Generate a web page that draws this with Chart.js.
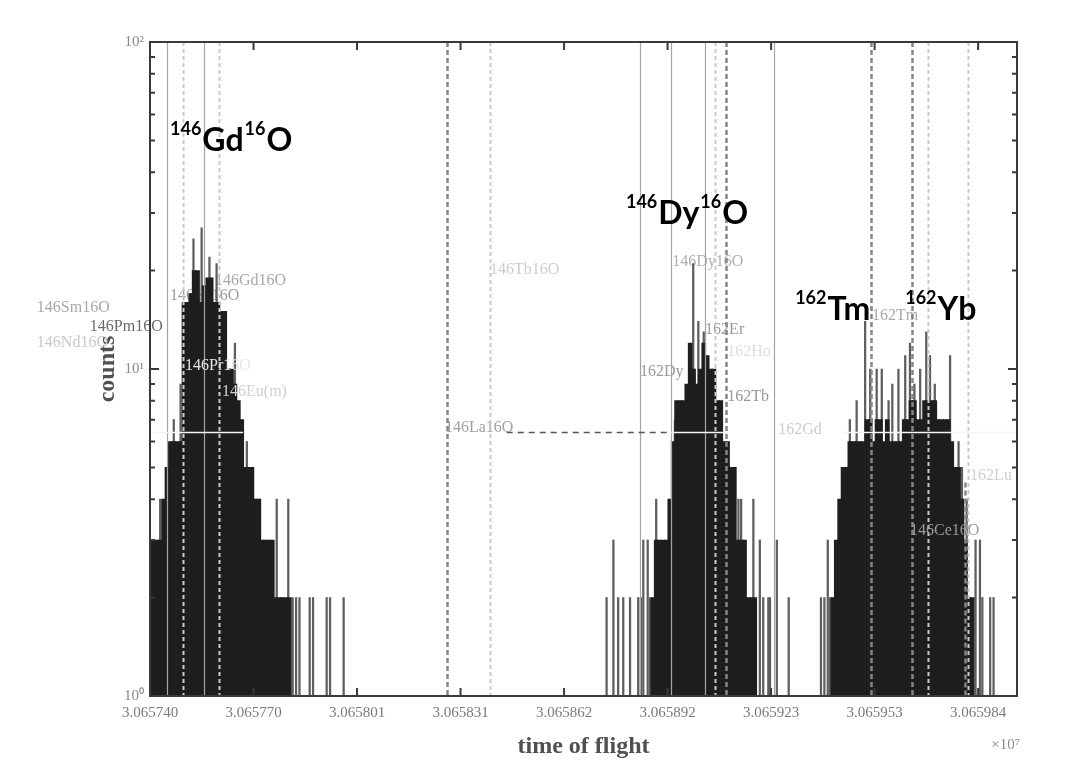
<!DOCTYPE html>
<html>
<head>
<meta charset="utf-8">
<title>time of flight</title>
<script src="https://cdn.jsdelivr.net/npm/chart.js@4.4.1/dist/chart.umd.min.js"></script>
<style>
  html, body { margin: 0; padding: 0; background: #fff; }
  canvas { display: block; }
</style>
</head>
<body>
<canvas id="tofChart" width="1077" height="769"></canvas>
<script>
'use strict'

// time of flight is in units of 1e-6 (x 10^7), counted from 3.065000
let TOF_BASE = 3.065;
let TOF_UNIT = 0.000001;

let xMin = 740;
let xMax = 995.2;
let xTicks = [740, 770.47, 800.94, 831.41, 861.88, 892.35, 922.82, 953.29, 983.76];
let xTickLabels = ['3.065740', '3.065770', '3.065801', '3.065831', '3.065862', '3.065892', '3.065923', '3.065953', '3.065984'];

let yTicks = [1, 10, 100];
let yTickLabels = ['10⁰', '10¹', '10²'];
let yMinorTicks = [2, 3, 4, 5, 6, 7, 8, 9, 20, 30, 40, 50, 60, 70, 80, 90];

// filled histogram, one bin per unit
let peak1Start = 740;
let peak1Counts = [3, 3, 3, 3, 4, 5, 6, 6, 6, 6, 16, 16, 17, 20, 20, 16, 18, 19, 19, 16,
  16, 15, 15, 10, 10, 9, 8, 7, 5, 5, 5, 4, 4, 3, 3, 3, 3, 2, 2, 2, 2, 2];
let peak2Start = 888;
let peak2Counts = [2, 3, 3, 3, 3, 4, 6, 8, 8, 8, 9, 12, 10, 9, 10, 12, 11, 10, 10, 8,
  8, 6, 6, 5, 5, 3, 3, 3, 2, 2, 2];
let peak3Start = 941;
let peak3Counts = [2, 3, 4, 5, 5, 6, 6, 6, 6, 6, 7, 7, 6, 7, 7, 6, 7, 6, 6, 6,
  6, 7, 7, 8, 8, 7, 7, 8, 8, 8, 8, 7, 7, 7, 7, 6, 5, 5, 4, 3, 2, 2];

// thin single channels (spikes and isolated counts)
let spikeTof = [743, 747, 749, 752.8, 755.2, 757.5, 759.6, 765, 768.5, 770.5, 772.4, 777.3, 780.7,
  782, 783, 784, 787, 788, 792, 793, 797,
  874.4, 876.4, 877.8, 879.3, 881.3, 883.7, 884.5, 885.2, 886.5, 887.2, 889, 894.5, 899.9, 901.4, 903,
  913.2, 914, 917.6, 919.5, 920.5, 922, 922.5, 924.5, 928,
  937.5, 938.5, 939.5, 940.2, 946, 948, 950.5, 952, 953.9, 955.4, 957.4, 958.5, 960.3, 962.3, 963.7,
  965, 966.7, 968.5, 969.6, 971, 975.5, 978, 979, 980.4, 983, 984.3, 985, 987.3, 988.3];
let spikeCounts = [4, 7, 9, 25, 27, 22, 21, 12, 6, 4, 4, 4, 4,
  2, 2, 2, 2, 2, 2, 2, 2,
  2, 3, 2, 2, 2, 2, 2, 3, 3, 2, 4, 7, 21, 14, 13,
  4, 4, 4, 3, 2, 2, 2, 3, 2,
  2, 2, 3, 2, 7, 8, 14, 10, 10, 10, 8, 9, 10, 11, 12,
  9, 10, 13, 11, 9, 11, 6, 5, 4, 3, 3, 2, 2, 2];

// reference lines: s = solid, l = light dashed, d = dark dashed; top given as a count
let vlineTof = [745.0, 749.7, 755.9, 760.3, 827.4, 840.1, 884.2, 893.4, 903.4, 906.3, 909.6, 923.7, 952.2, 964.3, 969.0, 980.8, 979.9];
let vlineKind = ['s', 'l', 's', 'l', 'd', 'l', 's', 's', 's', 'l', 'd', 's', 'd', 'd', 'l', 'l', 'd'];
let vlineTop = [100, 100, 100, 100, 100, 100, 100, 100, 100, 100, 100, 100, 100, 100, 100, 100, 4.5];

let hlineFrom = [740, 893.4, 944];
let hlineTo = [767.4, 909.6, 995];
let hlineCount = [6.4, 6.4, 6.4];
let dashFrom = 845;
let dashTo = 893.4;
let dashCount = 6.4;

let labelText = ['146Sm16O', '146Pm16O', '146Nd16O', '146Gd16O', '146Eu16O', '146Pr16O', '146Eu(m)',
  '146Tb16O', '146La16O', '146Dy16O', '162Er', '162Ho', '162Dy', '162Tb', '162Gd', '162Tm', '162Lu', '146Ce16O'];
let labelTof = [706.7, 722.3, 706.7, 759.1, 745.9, 750.3, 761.2, 840.1, 826.8, 893.7, 903.4, 909.9, 884.2, 909.9, 924.9, 952.5, 981.4, 963.7];
let labelCount = [15.4, 13.5, 12.0, 18.6, 16.7, 10.2, 8.5, 20.1, 6.6, 21.2, 13.2, 11.3, 9.8, 8.2, 6.5, 14.5, 4.7, 3.2];
let labelShade = ['#a8a8a8', '#6a6a6a', '#c8c8c8', '#a8a8a8', '#9a9a9a', '#e6e6e6', '#cfcfcf', '#cdcdcd', '#a0a0a0',
  '#b0b0b0', '#9a9a9a', '#dedede', '#999999', '#999999', '#cccccc', '#a8a8a8', '#d0d0d0', '#9a9a9a'];
let labelOnTop = [0, 0, 0, 0, 0, 1, 1, 0, 0, 0, 0, 0, 0, 0, 0, 0, 0, 1];

// big annotations, [text, superscript?]
let annParts = [
  [['146', 1], ['Gd', 0], ['16', 1], ['O', 0]],
  [['146', 1], ['Dy', 0], ['16', 1], ['O', 0]],
  [['162', 1], ['Tm', 0]],
  [['162', 1], ['Yb', 0]]
];
let annTof = [745.9, 880.1, 929.9, 962.3];
let annCount = [46.4, 27.8, 14.1, 14.1];

function tof(u) {
  return TOF_BASE + u * TOF_UNIT;
}

let histPts = [];
function addPeak(start, counts) {
  for (let i = 0; i < counts.length; i++) {
    if (counts[i]) histPts.push({ x: tof(start + i), y: counts[i] });
  }
}
addPeak(peak1Start, peak1Counts);
addPeak(peak2Start, peak2Counts);
addPeak(peak3Start, peak3Counts);

let spikePts = spikeTof.map((u, i) => ({ x: tof(u), y: spikeCounts[i] }));

const SERIF = "'Liberation Serif', 'Times New Roman', serif";

function drawLabels(chart, onTop) {
  let ctx = chart.ctx;
  let xs = chart.scales.x;
  let ys = chart.scales.y;
  ctx.save();
  ctx.font = '16px ' + SERIF;
  ctx.textBaseline = 'middle';
  ctx.textAlign = 'left';
  for (let i = 0; i < labelText.length; i++) {
    if (labelOnTop[i] !== onTop) continue;
    ctx.fillStyle = labelShade[i];
    ctx.fillText(labelText[i], xs.getPixelForValue(tof(labelTof[i])), ys.getPixelForValue(labelCount[i]));
  }
  ctx.restore();
}

function drawRefLines(chart) {
  let ctx = chart.ctx;
  let area = chart.chartArea;
  let xs = chart.scales.x;
  let ys = chart.scales.y;
  ctx.save();
  ctx.beginPath();
  ctx.rect(area.left, area.top, area.right - area.left, area.bottom - area.top);
  ctx.clip();
  for (let i = 0; i < vlineTof.length; i++) {
    let x = Math.round(xs.getPixelForValue(tof(vlineTof[i]))) + 0.5;
    let kind = vlineKind[i];
    if (kind === 's') {
      ctx.strokeStyle = '#a4a4a4'; ctx.lineWidth = 1.2; ctx.setLineDash([]);
    } else if (kind === 'l') {
      ctx.strokeStyle = '#cacaca'; ctx.lineWidth = 2; ctx.setLineDash([4, 3]);
    } else {
      ctx.strokeStyle = '#858585'; ctx.lineWidth = 2.5; ctx.setLineDash([5, 3]);
    }
    ctx.beginPath();
    ctx.moveTo(x, ys.getPixelForValue(vlineTop[i]));
    ctx.lineTo(x, area.bottom);
    ctx.stroke();
  }
  ctx.setLineDash([]);
  ctx.strokeStyle = '#f4f4f4';
  ctx.lineWidth = 1.5;
  for (let i = 0; i < hlineFrom.length; i++) {
    let y = ys.getPixelForValue(hlineCount[i]);
    ctx.beginPath();
    ctx.moveTo(xs.getPixelForValue(tof(hlineFrom[i])), y);
    ctx.lineTo(xs.getPixelForValue(tof(hlineTo[i])), y);
    ctx.stroke();
  }
  ctx.strokeStyle = '#555';
  ctx.setLineDash([6, 5]);
  let yd = ys.getPixelForValue(dashCount);
  ctx.beginPath();
  ctx.moveTo(xs.getPixelForValue(tof(dashFrom)), yd);
  ctx.lineTo(xs.getPixelForValue(tof(dashTo)), yd);
  ctx.stroke();
  ctx.restore();
}

function drawFrame(chart) {
  let ctx = chart.ctx;
  let a = chart.chartArea;
  let xs = chart.scales.x;
  let ys = chart.scales.y;
  ctx.save();
  ctx.strokeStyle = '#3a3a3a';
  ctx.lineWidth = 2;
  ctx.strokeRect(a.left, a.top, a.right - a.left, a.bottom - a.top);
  ctx.beginPath();
  xTicks.forEach(u => {
    let x = xs.getPixelForValue(tof(u));
    ctx.moveTo(x, a.bottom); ctx.lineTo(x, a.bottom - 8);
    ctx.moveTo(x, a.top); ctx.lineTo(x, a.top + 8);
  });
  yTicks.forEach(v => {
    let y = ys.getPixelForValue(v);
    ctx.moveTo(a.left, y); ctx.lineTo(a.left + 9, y);
    ctx.moveTo(a.right, y); ctx.lineTo(a.right - 9, y);
  });
  yMinorTicks.forEach(v => {
    let y = ys.getPixelForValue(v);
    ctx.moveTo(a.left, y); ctx.lineTo(a.left + 5, y);
    ctx.moveTo(a.right, y); ctx.lineTo(a.right - 5, y);
  });
  ctx.stroke();
  ctx.restore();
}

function drawAnnotations(chart) {
  let ctx = chart.ctx;
  let xs = chart.scales.x;
  let ys = chart.scales.y;
  ctx.save();
  ctx.fillStyle = '#000';
  ctx.textBaseline = 'alphabetic';
  ctx.textAlign = 'left';
  for (let i = 0; i < annParts.length; i++) {
    let x = xs.getPixelForValue(tof(annTof[i]));
    let y = ys.getPixelForValue(annCount[i]);
    annParts[i].forEach(p => {
      ctx.font = p[1] ? "bold 18px Lato, 'Open Sans', sans-serif" : "bold 32px Lato, 'Open Sans', sans-serif";
      ctx.fillText(p[0], x, p[1] ? y - 16 : y);
      x += ctx.measureText(p[0]).width + 1;
    });
  }
  ctx.restore();
}

function drawExponent(chart) {
  let ctx = chart.ctx;
  let a = chart.chartArea;
  ctx.save();
  ctx.fillStyle = '#8a8a8a';
  ctx.font = '15px ' + SERIF;
  ctx.textAlign = 'right';
  ctx.textBaseline = 'middle';
  ctx.fillText('×10⁷', a.right + 3, 745);
  ctx.restore();
}

const underLabels = {
  id: 'underLabels',
  beforeDatasetsDraw(chart) { drawLabels(chart, 0); }
};

const overlays = {
  id: 'overlays',
  afterDatasetsDraw(chart) {
    drawRefLines(chart);
    drawLabels(chart, 1);
    drawFrame(chart);
    drawAnnotations(chart);
    drawExponent(chart);
  }
};

let tofChart = new Chart(document.getElementById('tofChart'), {
  type: 'bar',
  data: {
    datasets: [
      {
        label: 'counts',
        data: histPts,
        backgroundColor: '#1e1e1e',
        borderWidth: 0,
        barThickness: 4,
        grouped: false,
        order: 0
      },
      {
        label: 'channels',
        data: spikePts,
        backgroundColor: '#5e5e5e',
        borderWidth: 0,
        barThickness: 1.6,
        grouped: false,
        order: 1
      }
    ]
  },
  options: {
    responsive: false,
    animation: false,
    layout: { padding: { left: 0, right: 60, top: 42, bottom: 0 } },
    plugins: {
      legend: { display: false },
      tooltip: { enabled: false }
    },
    scales: {
      x: {
        type: 'linear',
        offset: false,
        min: tof(xMin),
        max: tof(xMax),
        grid: { display: false, drawTicks: false },
        border: { display: false },
        afterBuildTicks: s => { s.ticks = xTicks.map(u => ({ value: tof(u) })); },
        afterFit: s => { s.height = 73; },
        ticks: {
          autoSkip: false,
          maxRotation: 0,
          padding: 8,
          color: '#7a7a7a',
          font: { family: SERIF, size: 15 },
          callback: (v, i) => xTickLabels[i]
        },
        title: {
          display: true,
          text: 'time of flight',
          color: '#505050',
          font: { family: SERIF, size: 24, weight: 'bold' },
          padding: { top: 0, bottom: 8 }
        }
      },
      y: {
        type: 'logarithmic',
        min: 1,
        max: 100,
        grid: { display: false, drawTicks: false },
        border: { display: false },
        afterBuildTicks: s => { s.ticks = yTicks.map(v => ({ value: v })); },
        afterFit: s => { s.width = 150; },
        ticks: {
          padding: 6,
          color: '#8a8a8a',
          font: { family: SERIF, size: 15 },
          callback: (v, i) => yTickLabels[i]
        },
        title: {
          display: true,
          text: 'counts',
          color: '#505050',
          font: { family: SERIF, size: 24, weight: 'bold' },
          padding: { top: 93, bottom: 0 }
        }
      }
    }
  },
  plugins: [underLabels, overlays]
});
</script>
</body>
</html>
